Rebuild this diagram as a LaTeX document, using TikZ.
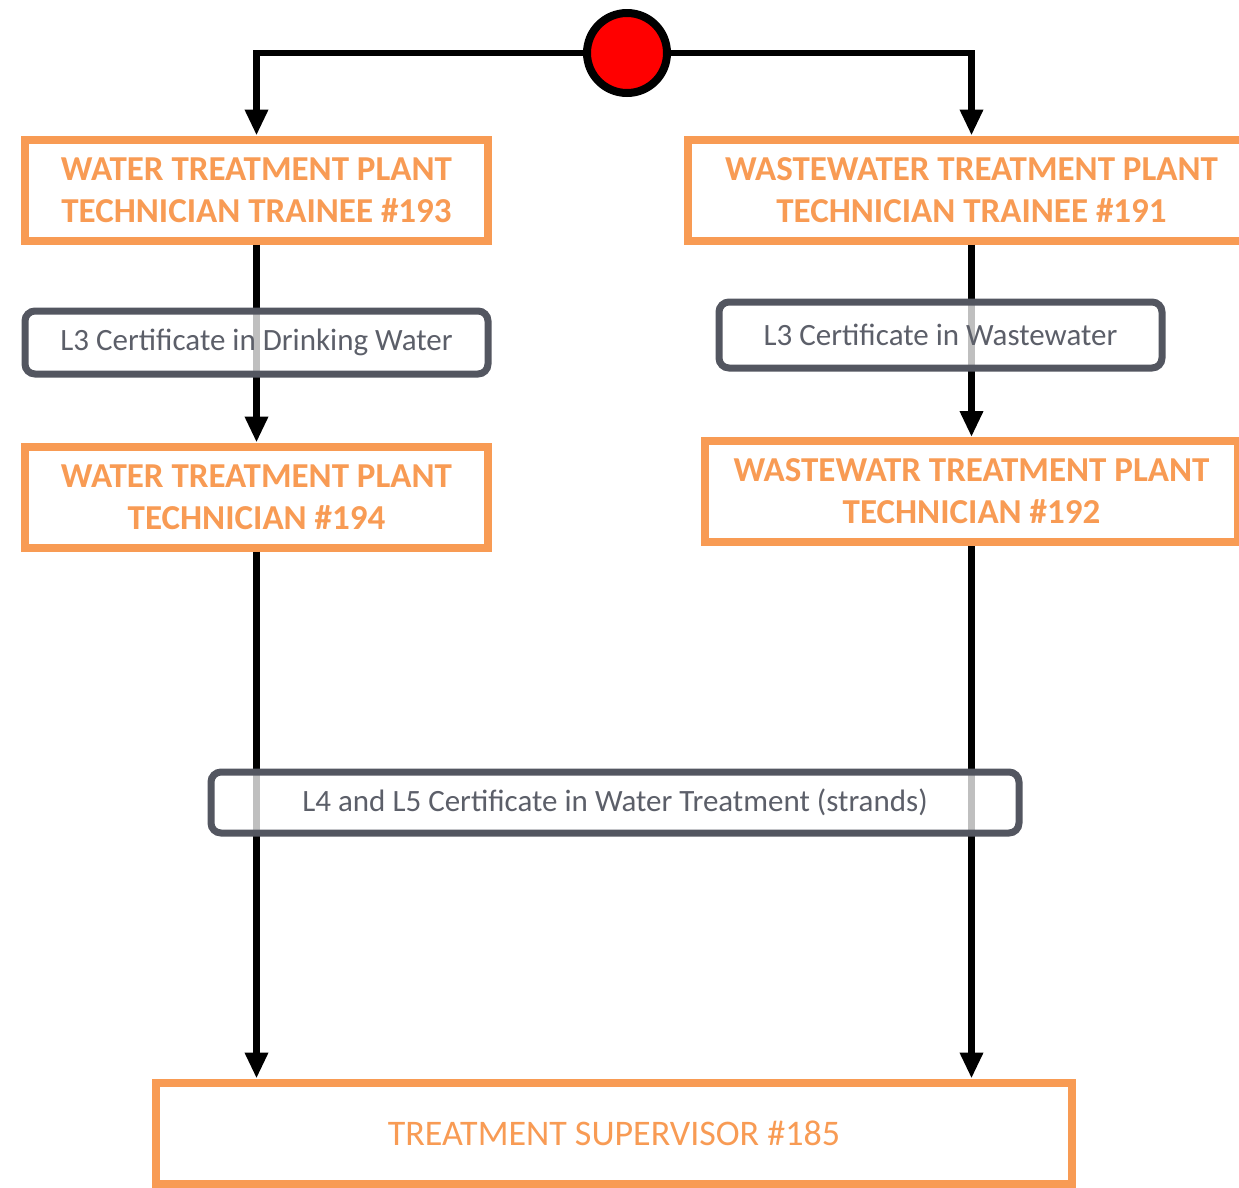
\documentclass[tikz,border=0pt]{standalone}
\usepackage{fontspec}
\setmainfont{Carlito}
\usepackage{xcolor}
\usetikzlibrary{arrows.meta,positioning}

\definecolor{jobOrange}{RGB}{248,155,84}
\definecolor{certGrey}{RGB}{83,86,96}
\definecolor{certText}{RGB}{92,95,105}

\begin{document}
\begin{tikzpicture}
          [x=1pt,y=-1pt]
          \tikzstyle{job}=[draw=jobOrange,line width=8pt,fill=white,text=jobOrange,align=center,inner sep=0pt,minimum height=101pt,font=\fontsize{35}{42}\selectfont\bfseries]
          \tikzstyle{cert}=[draw=certGrey,line width=7pt,rounded corners=10pt,fill=white,fill opacity=0.75,text opacity=1,text=certText,inner sep=0pt,font=\fontsize{31}{36}\selectfont]
          \tikzstyle{flow}=[draw=black,line width=6.5pt,-{Triangle[width=22pt,length=26pt]}]

          \useasboundingbox (0,0) rectangle (1239,1187);

          % start point and the job boxes
          \node[circle,draw=black,fill=red,line width=8pt,inner sep=0pt,minimum size=80pt] (start) at (627,53) {};
          \node[job,minimum width=463pt] (wt193) at (256.5,190) {WATER TREATMENT PLANT\\TECHNICIAN TRAINEE \#193};
          \node[job,minimum width=567pt] (ww191) at (971.5,190) {WASTEWATER TREATMENT PLANT\\TECHNICIAN TRAINEE \#191};
          \node[job,minimum width=463pt] (wt194) at (256.5,497) {WATER TREATMENT PLANT\\TECHNICIAN \#194};
          \node[job,minimum width=533pt] (ww192) at (971.5,491.5) {WASTEWATR TREATMENT PLANT\\TECHNICIAN \#192};
          \node[job,minimum width=916pt,font=\fontsize{36}{42}\selectfont] (sup185) at (614,1133) {TREATMENT SUPERVISOR \#185};

          \draw[flow] (start.west) -| (wt193.north);
          \draw[flow] (start.east) -| (ww191.north);
          \path
          (wt193) edge[flow] (wt194)
          (ww191) edge[flow] (ww192)
          (wt194.south) edge[flow] (wt194.south |- sup185.north)
          (ww192.south) edge[flow] (ww192.south |- sup185.north)
          ;

          % certificates sit over the lines
          \node[cert,minimum width=463pt,minimum height=63pt] (l3dw) at (256.5,342.5) {L3 Certificate in Drinking Water};
          \node[cert,minimum width=443pt,minimum height=66pt] (l3ww) at (940.5,335) {L3 Certificate in Wastewater};
          \node[cert,minimum width=808pt,minimum height=61pt] (l45wt) at (615,802.5) {L4 and L5 Certificate in Water Treatment (strands)};
        \end{tikzpicture}
\end{document}
